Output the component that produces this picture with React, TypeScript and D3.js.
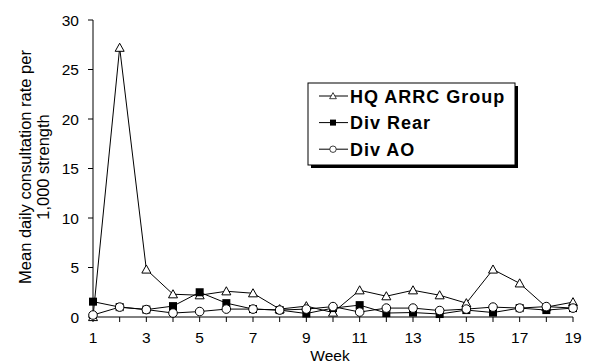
import React from 'react';
import * as d3 from 'd3';

const weeks = d3.range(1, 20);
const hqArrc = [0, 27.2, 4.8, 2.3, 2.2, 2.6, 2.4, 0.8, 1.1, 0.45, 2.7, 2.1, 2.7, 2.2, 1.4, 4.8, 3.4, 1.0, 1.5];
const divRear = [1.55, 1.0, 0.75, 1.1, 2.5, 1.4, 0.8, 0.7, 0.35, 0.9, 1.2, 0.4, 0.45, 0.3, 0.7, 0.45, 0.9, 0.7, 0.9];
const divAo = [0.2, 1.0, 0.75, 0.4, 0.55, 0.8, 0.8, 0.7, 0.8, 1.05, 0.5, 0.9, 0.9, 0.65, 0.8, 1.0, 0.9, 1.05, 0.9];
const yTicks = [0, 5, 10, 15, 20, 25, 30];
const xTickLabels = [1, 3, 5, 7, 9, 11, 13, 15, 17, 19];

const series = [
    { name: 'HQ ARRC Group', values: hqArrc, marker: 'triangle' },
    { name: 'Div Rear', values: divRear, marker: 'square' },
    { name: 'Div AO', values: divAo, marker: 'circle' },
];

const font = 'Arial, "Liberation Sans", sans-serif';

const Marker = ({ type, x, y }: { type: string; x: number; y: number }) => {
    if (type === 'triangle') {
        const s = 4.5;
        return <path d={`M${x},${y - s} L${x + s},${y + s * 0.8} L${x - s},${y + s * 0.8} Z`} fill="#fff" stroke="#000" strokeWidth={1} />;
    }
    if (type === 'square') {
        return <rect x={x - 4} y={y - 4} width={8} height={8} fill="#000" />;
    }
    return <circle cx={x} cy={y} r={4.3} fill="#fff" stroke="#000" strokeWidth={1} />;
};

const App = () => {
    const width = 591;
    const height = 364;
    const margin = { top: 20, right: 18, bottom: 47, left: 93 };

    const x = d3.scaleLinear().domain([1, 19]).range([margin.left, width - margin.right]);
    const y = d3.scaleLinear().domain([0, 30]).range([height - margin.bottom, margin.top]);

    const line = d3.line<number>()
        .x((_, i) => x(weeks[i]))
        .y(d => y(d));

    const y0 = y(0);
    const labelMid = 167;

    return (
        <svg width={width} height={height} style={{ position: 'absolute', left: 0, top: 0, background: '#fff' }}>
            {/* y axis */}
            <line x1={x(1)} x2={x(1)} y1={y(30)} y2={y0} stroke="#000" />
            {yTicks.map(t => (
                <g key={t}>
                    <line x1={x(1) - 5} x2={x(1)} y1={y(t)} y2={y(t)} stroke="#000" />
                    <text x={x(1) - 14} y={y(t) + 5.5} textAnchor="end" fontSize={15.5} fontFamily={font}>{t}</text>
                </g>
            ))}
            {/* x axis */}
            <line x1={x(1)} x2={x(19)} y1={y0} y2={y0} stroke="#000" />
            {weeks.map(w => (
                <line key={w} x1={x(w)} x2={x(w)} y1={y0} y2={y0 + 5} stroke="#000" />
            ))}
            {xTickLabels.map(w => (
                <text key={w} x={x(w)} y={343} textAnchor="middle" fontSize={15.5} fontFamily={font}>{w}</text>
            ))}
            <text x={330} y={361} textAnchor="middle" fontSize={15.5} fontFamily={font}>Week</text>
            <text transform={`translate(31,${labelMid}) rotate(-90)`} textAnchor="middle" fontSize={16.5} fontFamily={font}>
                Mean daily consultation rate per
            </text>
            <text transform={`translate(49,${labelMid}) rotate(-90)`} textAnchor="middle" fontSize={16.5} fontFamily={font}>
                1,000 strength
            </text>

            {/* series */}
            {series.map(s => (
                <g key={s.name}>
                    <path d={line(s.values) ?? ''} fill="none" stroke="#000" strokeWidth={1} />
                    {s.values.map((v, i) => (
                        <Marker key={i} type={s.marker} x={x(weeks[i])} y={y(v)} />
                    ))}
                </g>
            ))}

            {/* legend */}
            <rect x={311} y={86} width={207} height={82} fill="#000" />
            <rect x={308} y={83} width={207} height={82} fill="#fff" stroke="#000" strokeWidth={1} />
            {series.map((s, i) => {
                const ly = 96 + i * 26.6;
                return (
                    <g key={s.name}>
                        <line x1={319} x2={348} y1={ly} y2={ly} stroke="#000" />
                        <g transform={`scale(0.75)`} transform-origin={`333 ${ly}`}>
                            <Marker type={s.marker} x={333} y={ly} />
                        </g>
                        <text x={350} y={ly + 6.5} fontSize={18} fontWeight="bold" letterSpacing={1} fontFamily={font}>{s.name}</text>
                    </g>
                );
            })}
        </svg>
    );
};

export default App;
